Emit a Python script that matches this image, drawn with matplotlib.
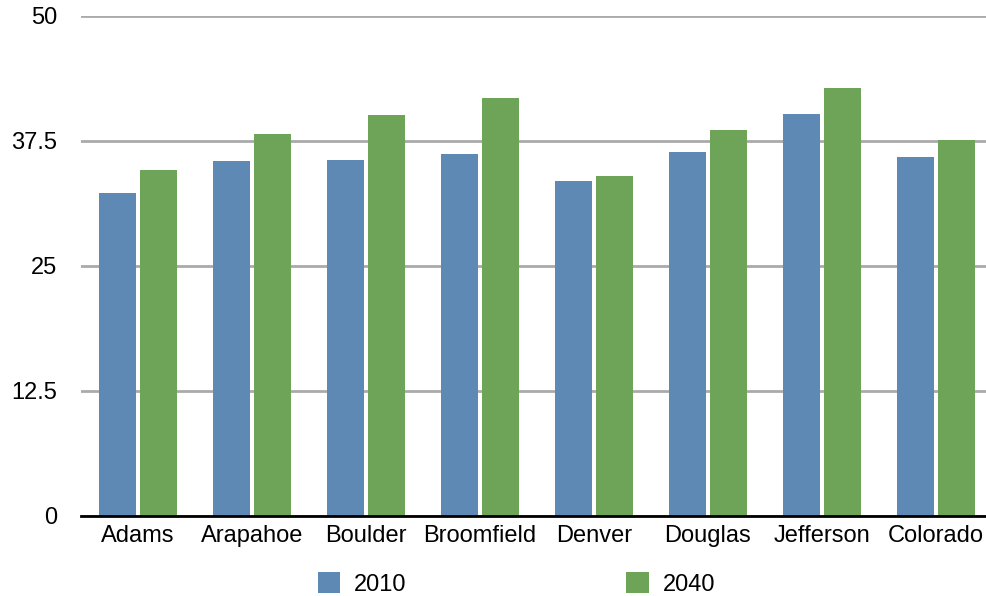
import matplotlib
matplotlib.use("Agg")
import matplotlib.pyplot as plt
import numpy as np

plt.rcParams['font.family'] = ['Liberation Sans', 'DejaVu Sans']

# data
counties = ["Adams", "Arapahoe", "Boulder", "Broomfield", "Denver", "Douglas", "Jefferson", "Colorado"]
vals_2010 = [32.3, 35.5, 35.6, 36.2, 33.5, 36.4, 40.2, 35.9]
vals_2040 = [34.6, 38.2, 40.1, 41.8, 34.0, 38.6, 42.8, 37.6]
yticks = [0, 12.5, 25, 37.5, 50]
ytick_labels = ["0", "12.5", "25", "37.5", "50"]

BLUE = "#5E89B4"
GREEN = "#6EA458"

fig = plt.figure(figsize=(9.86, 5.96), dpi=100)
# axes run a little past the right edge, like the reference
ax = fig.add_axes([81/986, 80.5/596, 912/986, (515.5 - 15.5)/596])

x = np.arange(len(counties))
w = 0.325
ax.bar(x - 0.18, vals_2010, width=w, color=BLUE, label="2010", zorder=3)
ax.bar(x + 0.18, vals_2040, width=w, color=GREEN, label="2040", zorder=3)

ax.set_xlim(-0.5, len(counties) - 0.5)
ax.set_ylim(0, 50)
ax.set_yticks(yticks)
ax.set_yticklabels(ytick_labels)
ax.set_xticks(x)
ax.set_xticklabels(counties)

ax.yaxis.grid(True, color="#AAAAAA", linewidth=2, zorder=0)
ax.tick_params(axis="both", length=0, labelsize=17, colors="black")
ax.tick_params(axis="y", pad=17)
ax.tick_params(axis="x", pad=7)
for s in ["top", "right", "left"]:
    ax.spines[s].set_visible(False)
ax.spines["bottom"].set_color("black")
ax.spines["bottom"].set_linewidth(2)
ax.spines["bottom"].set_zorder(4)

fig.legend(loc="center", bbox_to_anchor=(0.524, 1 - 584/596), ncol=2, frameon=False,
           fontsize=17, handlelength=0.95, handleheight=0.95, columnspacing=9.3,
           handletextpad=0.6)

fig.savefig("out.png", dpi=100)
